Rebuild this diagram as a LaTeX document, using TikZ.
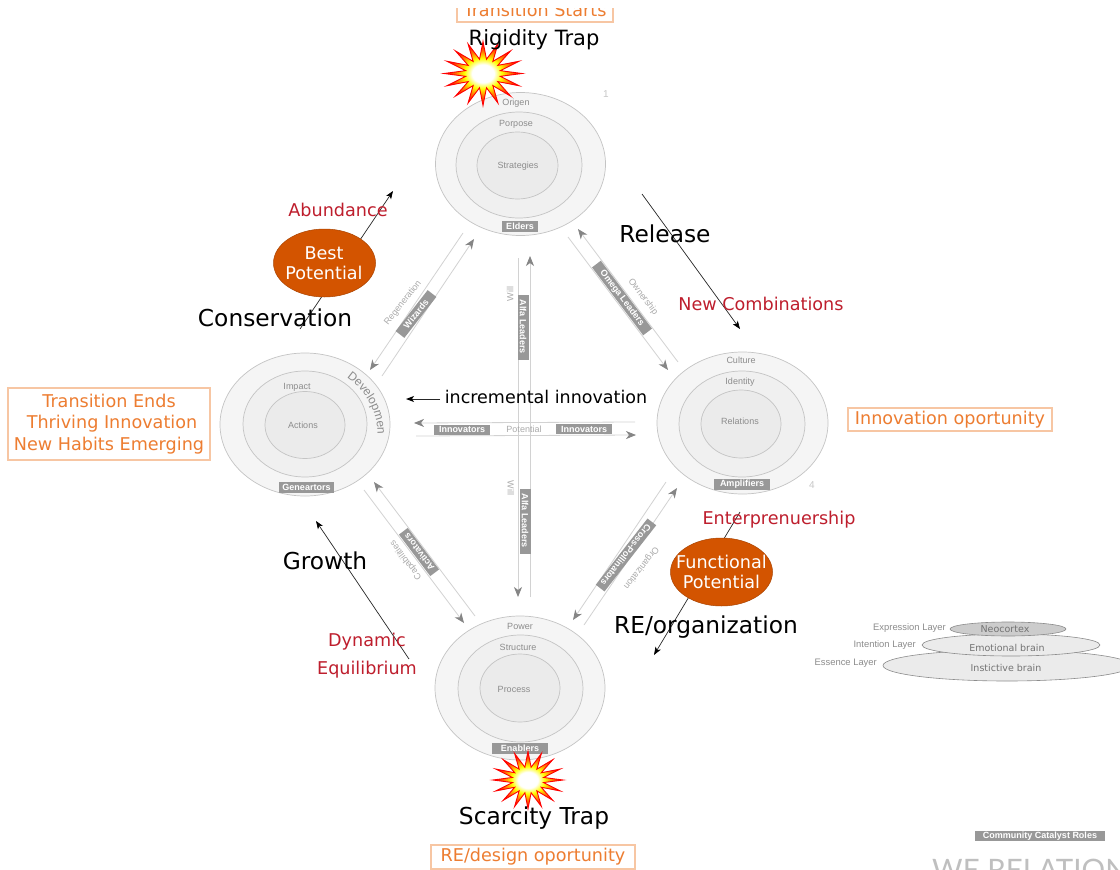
\documentclass[tikz,border=0pt]{standalone}
\usepackage{fontspec}
\setmainfont{Liberation Sans}
\newfontfamily\djv{DejaVu Sans}
\newfontfamily\lato{Lato}
\usetikzlibrary{arrows.meta,shapes.geometric,decorations.text}
\definecolor{lbl}{HTML}{8C8C8C}
\definecolor{lbm}{HTML}{ABABAB}
\definecolor{tagc}{HTML}{989898}
\definecolor{rim}{HTML}{C4C4C4}
\definecolor{flow}{HTML}{D2D2D2}
\definecolor{tipc}{HTML}{858585}
\definecolor{redt}{HTML}{BE1E2D}
\definecolor{orng}{HTML}{ED7D31}
\definecolor{orbd}{HTML}{F7C6A3}
\definecolor{pot}{HTML}{D35400}
\pgfdeclareradialshading{burst}{\pgfpoint{0bp}{0bp}}{color(0bp)=(white); color(7bp)=(white); color(12bp)=(yellow); color(17bp)=(orange); color(23bp)=(red); color(50bp)=(red)}
\tikzset{
 ringa/.style={ellipse,draw=rim,line width=.7pt,fill=#1,inner sep=0pt},
 lab/.style={text=lbl,font=\fontsize{9}{11}\selectfont,inner sep=0pt},
 labm/.style={text=lbm,font=\fontsize{9}{11}\selectfont,inner sep=0pt},
 tag/.style={fill=tagc,text=white,font=\bfseries\fontsize{9}{10}\selectfont,inner sep=0pt,minimum height=11pt,align=center},
 flowto/.style={draw=flow,line width=.8pt,-{Stealth[length=10pt,width=8pt,inset=3pt,color=tipc]}},
 blk/.style={draw=black!85,line width=.7pt,-{Stealth[length=8pt,width=6pt,inset=2pt,black]}},
 bigt/.style={text=black,font=\djv\fontsize{23.3}{27}\selectfont,inner sep=0pt},
 redl/.style={text=redt,font=\djv\fontsize{17.6}{21}\selectfont,inner sep=0pt},
 orbox/.style={draw=orbd,line width=1.6pt,text=orng,font=\djv\fontsize{17.6}{21.5}\selectfont,inner sep=0pt,align=center,fill=white},
 potn/.style={ellipse,fill=pot,draw=pot!80!black,line width=.5pt,inner sep=0pt,minimum width=102pt,minimum height=68pt},
 pott/.style={text=white,font=\djv\fontsize{17.6}{20}\selectfont,align=center,inner sep=0pt},
 brst/.style={star,star points=16,star point ratio=2.2,draw=red,line width=.9pt,shade,shading=burst,inner sep=0pt,yscale=.82,transform shape},
 brain/.style={ellipse,draw=black!45,line width=.6pt,fill=#1,inner sep=0pt},
 braint/.style={text=black!55,font=\djv\fontsize{9.5}{11}\selectfont,inner sep=0pt},
}
\begin{document}
\begin{tikzpicture}[x=1pt,y=-1pt]
\clip (0,0) rectangle (1120,870);
\fill[white] (0,0) rectangle (1120,870);

% transition box cut by the top edge
\node[orbox,minimum width=156pt,minimum height=24pt] (tstart) at (535,10) {Transition Starts};
\fill[white] (440,0) rectangle (630,8);

% top cluster
\node[ringa=black!4,minimum width=170pt,minimum height=143pt] (topa) at (520.5,164) {};
\node[ringa=black!6,minimum width=126pt,minimum height=106pt] (topb) at (519,165) {};
\node[ringa=black!8,minimum width=81pt,minimum height=67pt] (topc) at (517.5,165.5) {};
\node[lab] (l1) at (516,103) {Origen};
\node[lab] (l2) at (516,124) {Porpose};
\node[lab] (l3) at (518,166) {Strategies};
\node[tag,minimum width=36pt] (elders) at (520,226.5) {Elders};
% left cluster
\node[ringa=black!4,minimum width=170pt,minimum height=143pt] (lefta) at (305,424.5) {};
\node[ringa=black!6,minimum width=124pt,minimum height=106pt] (leftb) at (305,424) {};
\node[ringa=black!8,minimum width=80pt,minimum height=67pt] (leftc) at (305,425) {};
\node[lab] (l4) at (297,387) {Impact};
\node[lab] (l5) at (303,425) {Actions};
\node[tag,minimum width=55pt] (gen) at (306.5,487) {Geneartors};
\path[decorate,decoration={text along path,text align=center,text={|\fontsize{12}{14}\selectfont\color{lbl}|Developmen}}]
  (341,374) .. controls (362,385) and (381,412) .. (377,441);
% right cluster
\node[ringa=black!4,minimum width=171pt,minimum height=142pt] (righta) at (742.5,423) {};
\node[ringa=black!6,minimum width=126pt,minimum height=106pt] (rightb) at (742,424) {};
\node[ringa=black!8,minimum width=80pt,minimum height=68pt] (rightc) at (741,424) {};
\node[lab] (l6) at (741,360) {Culture};
\node[lab] (l7) at (740,382) {Identity};
\node[lab] (l8) at (740,421) {Relations};
\node[tag,minimum width=56pt] (amp) at (742,484) {Amplifiers};
% bottom cluster
\node[ringa=black!4,minimum width=170pt,minimum height=144pt] (bota) at (520,688) {};
\node[ringa=black!6,minimum width=125pt,minimum height=107pt] (botb) at (520.5,688.5) {};
\node[ringa=black!8,minimum width=80pt,minimum height=68pt] (botc) at (520,688) {};
\node[lab] (l9) at (520,626) {Power};
\node[lab] (l10) at (518,647) {Structure};
\node[lab] (l11) at (514,689) {Process};
\node[tag,minimum width=56pt] (enab) at (520,748.5) {Enablers};

% flow end points
\coordinate (a1) at (382,376); \coordinate (a2) at (474,239);
\coordinate (b1) at (463,233); \coordinate (b2) at (370,370);
\coordinate (c1) at (678,362); \coordinate (c2) at (578,229);
\coordinate (d1) at (568,237); \coordinate (d2) at (668,370);
\coordinate (e1) at (518,258); \coordinate (e2) at (518,597);
\coordinate (f1) at (530,597); \coordinate (f2) at (530,256);
\coordinate (g1) at (635,422); \coordinate (g2) at (414,423);
\coordinate (h1) at (416,436); \coordinate (h2) at (636,435);
\coordinate (i1) at (475,616); \coordinate (i2) at (374,482);
\coordinate (j1) at (364,490); \coordinate (j2) at (464,623);
\coordinate (k1) at (584,625); \coordinate (k2) at (677,488);
\coordinate (m1) at (666,482); \coordinate (m2) at (573,620);
\foreach \s/\t in {a1/a2,b1/b2,c1/c2,d1/d2,e1/e2,f1/f2,g1/g2,h1/h2,i1/i2,j1/j2,k1/k2,m1/m2}
  \draw[flowto] (\s) -- (\t);

% tags on flows
\node[tag,minimum width=52pt,rotate=52] (wiz) at (416,314) {Wizards};
\node[tag,minimum width=85pt,rotate=-53] (ome) at (622,298) {Omega Leaders};
\node[tag,minimum width=65pt,rotate=-90] (alfa1) at (523,327) {Alfa Leaders};
\node[tag,minimum width=65pt,rotate=-90] (alfa2) at (525,521) {Alfa Leaders};
\node[tag,minimum width=56pt,minimum height=10pt] (inn1) at (462,429.5) {Innovators};
\node[tag,minimum width=56pt,minimum height=10pt] (inn2) at (584,429) {Innovators};
\node[tag,minimum width=52pt,rotate=127] (act) at (419,552) {Activators};
\node[tag,minimum width=84pt,rotate=232] (cro) at (626,555) {Cross-Pollinators};
\node[labm] (n1) at (403,303) [rotate=52] {Regeneration};
\node[labm] (n2) at (643,297) [rotate=-53] {Ownership};
\node[labm] (n3) at (510,294) [rotate=90] {Will};
\node[labm] (n4) at (511,488) [rotate=-90] {Will};
\node[labm] (n5) at (524,429) {Potential};
\node[labm] (n6) at (406,560) [rotate=127] {Capabilities};
\node[labm] (n7) at (641,568) [rotate=232] {Organization};
\node[text=black!22,font=\fontsize{10}{12}\selectfont,inner sep=0pt] (one) at (606,94) {1};
\node[text=black!22,font=\fontsize{10}{12}\selectfont,inner sep=0pt] (four) at (812,485) {4};

% black arrows
\coordinate (r1) at (642,194); \coordinate (r2) at (740,329);
\coordinate (ab1) at (300,329); \coordinate (ab2) at (393,191);
\coordinate (gr1) at (409,659); \coordinate (gr2) at (316,521);
\coordinate (fp1) at (740,512); \coordinate (fp2) at (654,655);
\coordinate (inc1) at (440,399); \coordinate (inc2) at (406,399);
\draw[blk] (r1) -- (r2);
\draw[blk] (ab1) -- (ab2);
\draw[blk] (gr1) -- (gr2);
\draw[blk] (fp1) -- (fp2);
\draw[blk,line width=1pt] (inc1) -- (inc2);

\node[potn] (best) at (324.5,263) {};
\node[pott] (bestt) at (324,263) {Best\\Potential};
\node[potn] (func) at (721.5,572) {};
\node[pott] (funct) at (721.5,572) {Functional\\Potential};

% bursts
\node[brst,minimum size=78pt] (burst1) at (483,73.5) {};
\node[brst,minimum size=70pt] (burst2) at (528,780) {};

% big labels
\node[bigt,font=\djv\fontsize{21}{25}\selectfont] (rig) at (534,39.5) {Rigidity Trap};
\node[bigt] (sca) at (534,818) {Scarcity Trap};
\node[bigt] (rel) at (665,234) {Release};
\node[bigt] (con) at (275,318) {Conservation};
\node[bigt] (gro) at (325,561) {Growth};
\node[bigt] (reo) at (706,627.5) {RE/organization};
\node[bigt,font=\djv\fontsize{17.5}{21}\selectfont] (inc) at (546,397) {incremental innovation};
% red labels
\node[redl] (r-a) at (338,210) {Abundance};
\node[redl] (r-b) at (761,304) {New Combinations};
\node[redl] (r-c) at (779,519.5) {Enterprenuership};
\node[redl] (r-d) at (367,642) {Dynamic};
\node[redl] (r-e) at (367,669.5) {Equilibrium};
% orange boxes
\node[orbox,minimum width=202pt,minimum height=72pt] (tend) at (109,424) {Transition Ends\\\hspace*{6pt}Thriving Innovation\\New Habits Emerging};
\node[orbox,minimum width=204pt,minimum height=23pt] (iopp) at (950,419.5) {Innovation oportunity};
\node[orbox,minimum width=204pt,minimum height=24pt] (ropp) at (533,857) {RE/design oportunity};

% brain layers
\node[brain=black!8,minimum width=248pt,minimum height=31pt] (ins) at (1007,665.5) {};
\node[brain=black!8,minimum width=178pt,minimum height=22pt] (emo) at (1011,645) {};
\node[brain=black!20,minimum width=116pt,minimum height=14pt] (neo) at (1008,629) {};
\node[braint] (t-ins) at (1006,668) {Instictive brain};
\node[braint] (t-emo) at (1007,647.5) {Emotional brain};
\node[braint] (t-neo) at (1005,629) {Neocortex};
\node[lab,anchor=east,font=\fontsize{9.4}{11}\selectfont] (x1) at (946,628) {Expression Layer};
\node[lab,anchor=east,font=\fontsize{9.4}{11}\selectfont] (x2) at (916,645) {Intention Layer};
\node[lab,anchor=east,font=\fontsize{9.4}{11}\selectfont] (x3) at (877,663) {Essence Layer};

\node[tag,minimum width=130pt,minimum height=10pt,font=\bfseries\fontsize{9}{10}\selectfont] (roles) at (1040,836) {Community Catalyst Roles};
\node[text=black!25,font=\lato\fontsize{29.5}{36}\selectfont,anchor=base west,inner sep=0pt] (we) at (932,880) {WE RELATION};
\end{tikzpicture}
\end{document}
